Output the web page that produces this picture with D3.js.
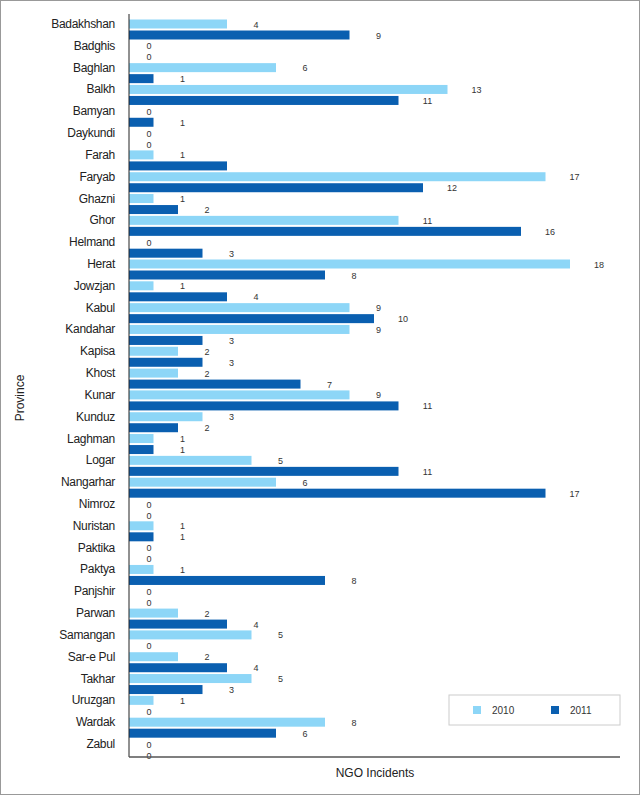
<!DOCTYPE html>
<html><head><meta charset="utf-8">
<script src="https://cdn.jsdelivr.net/npm/d3@7"></script>
<style>body{margin:0;background:#fff}svg{display:block}</style>
</head><body><div id="canvas"></div>
<script>
let provinces = ["Badakhshan","Badghis","Baghlan","Balkh","Bamyan","Daykundi","Farah","Faryab","Ghazni","Ghor","Helmand","Herat","Jowzjan","Kabul","Kandahar","Kapisa","Khost","Kunar","Kunduz","Laghman","Logar","Nangarhar","Nimroz","Nuristan","Paktika","Paktya","Panjshir","Parwan","Samangan","Sar-e Pul","Takhar","Uruzgan","Wardak","Zabul"];
let values2010 = [4,0,6,13,0,0,1,17,1,11,0,18,1,9,9,2,2,9,3,1,5,6,0,1,0,1,0,2,5,2,5,1,8,0];
let values2011 = [9,0,1,11,1,0,4,12,2,16,3,8,4,10,3,3,7,11,2,1,11,17,0,1,0,8,0,4,0,4,3,0,6,0];
let years = ["2010","2011"];
let colors = ["#8dd6f7","#0a5fb0"];
let hideLabel2011 = ["Farah"]; // no value printed there in the original

let svg = d3.select("#canvas").append("svg").attr("width",640).attr("height",795);
svg.append("rect").attr("x",0.5).attr("y",0.5).attr("width",639).attr("height",794)
    .attr("fill","#fff").attr("stroke","#999");

let left = 129, right = 620;
let x = d3.scaleLinear().domain([0,18]).range([left, left + 18*24.5]);
let y = d3.scalePoint().domain(provinces).range([24, 744]);
let barH = 9, offset = [0, 11];

let g = svg.append("g");
provinces.forEach(function(p, i) {
    [values2010[i], values2011[i]].forEach(function(v, s) {
        let cy = y(p) + offset[s];
        if (v > 0) g.append("rect").attr("x", x(0)).attr("y", cy - barH/2)
            .attr("width", x(v) - x(0)).attr("height", barH).attr("fill", colors[s]);
        if (!(s == 1 && hideLabel2011.includes(p)))
            g.append("text").attr("x", x(v) + (v > 0 ? 29 : 20)).attr("y", cy + 3.5)
                .attr("text-anchor","middle").attr("font-size",9).attr("fill","#333")
                .attr("font-family","Liberation Sans, Arial").text(v);
    });
    g.append("text").attr("x", left - 14).attr("y", y(p) + 4).attr("text-anchor","end")
        .attr("font-size",12).attr("fill","#222").attr("font-family","Liberation Sans, Arial")
        .attr("letter-spacing","-0.3").text(p);
});

svg.append("line").attr("x1",left).attr("x2",left).attr("y1",14).attr("y2",757).attr("stroke","#222");
svg.append("line").attr("x1",left).attr("x2",right).attr("y1",757).attr("y2",757).attr("stroke","#555").attr("stroke-width",1.5);

svg.append("text").attr("x",375).attr("y",777).attr("text-anchor","middle").attr("font-size",12)
    .attr("fill","#222").attr("font-family","Liberation Sans, Arial").text("NGO Incidents");
svg.append("text").attr("transform","translate(24,398) rotate(-90)").attr("text-anchor","middle")
    .attr("font-size",12).attr("fill","#222").attr("font-family","Liberation Sans, Arial").text("Province");

let lg = svg.append("g");
lg.append("rect").attr("x",449).attr("y",695).attr("width",171).attr("height",30)
    .attr("fill","#fff").attr("stroke","#ccc");
years.forEach(function(yr, s) {
    lg.append("rect").attr("x",473 + s*78).attr("y",706).attr("width",8).attr("height",8).attr("fill",colors[s]);
    lg.append("text").attr("x",492 + s*78).attr("y",714).attr("font-size",10).attr("fill","#333")
        .attr("font-family","Liberation Sans, Arial").text(yr);
});
</script></body></html>
